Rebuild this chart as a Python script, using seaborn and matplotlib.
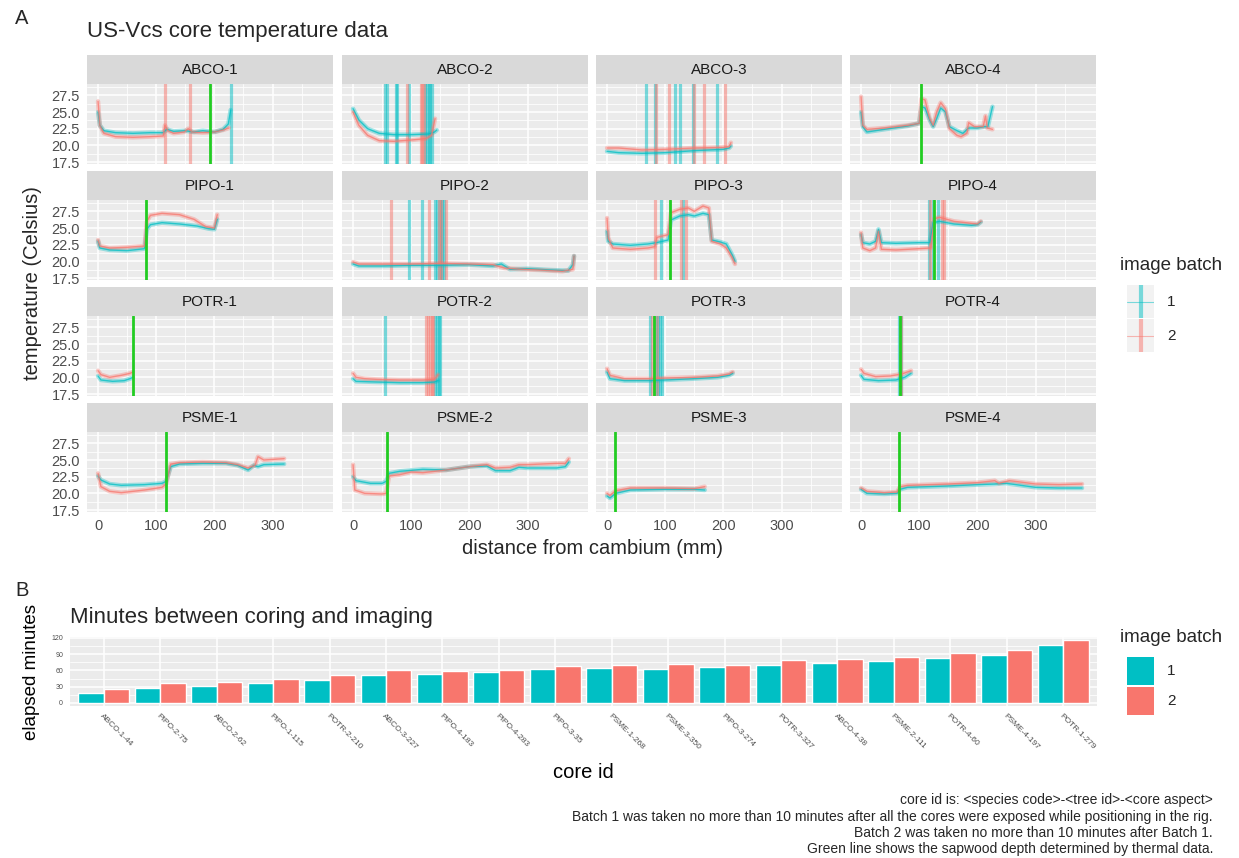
"""
US-Vcs core temperature profiles (A) and coring-to-imaging delay (B).
Values read off the original figure by eye.
"""
import matplotlib
matplotlib.use("Agg")
import matplotlib.pyplot as plt
import numpy as np
import pandas as pd
import seaborn as sns

# ---- Panel A data: (distance mm, temperature C) ----
facets = [
    "ABCO-1", "ABCO-2", "ABCO-3", "ABCO-4",
    "PIPO-1", "PIPO-2", "PIPO-3", "PIPO-4",
    "POTR-1", "POTR-2", "POTR-3", "POTR-4",
    "PSME-1", "PSME-2", "PSME-3", "PSME-4",
]

batch1_profiles = {
    "ABCO-1": [(0, 25.0), (3, 23.0), (10, 22.2), (30, 21.9), (60, 21.8), (90, 21.9), (112, 21.9),
               (118, 22.4), (130, 22.1), (150, 22.2), (165, 22.0), (180, 22.2), (200, 22.0),
               (215, 22.4), (224, 23.2), (228, 25.3)],
    "ABCO-2": [(0, 25.5), (10, 23.8), (25, 22.5), (45, 21.8), (70, 21.6), (100, 21.6), (130, 21.7),
               (140, 22.0), (144, 22.3)],
    "ABCO-3": [(0, 19.1), (20, 18.9), (60, 18.8), (100, 18.9), (150, 19.2), (200, 19.4), (210, 19.6),
               (213, 19.9)],
    "ABCO-4": [(0, 25.0), (3, 22.8), (10, 22.0), (40, 22.4), (80, 22.9), (100, 23.3), (104, 25.8),
               (110, 25.6), (118, 23.8), (124, 22.8), (130, 24.0), (137, 25.6), (145, 25.0),
               (152, 22.8), (165, 22.2), (175, 21.8), (185, 22.6), (200, 22.6), (212, 22.8),
               (218, 22.8), (226, 25.8)],
    "PIPO-1": [(0, 23.0), (3, 22.0), (20, 21.7), (50, 21.6), (80, 21.9), (84, 24.8), (90, 25.5),
               (110, 25.8), (140, 25.6), (170, 25.3), (190, 24.9), (200, 24.8), (205, 26.3)],
    "PIPO-2": [(0, 19.6), (10, 19.3), (50, 19.3), (100, 19.4), (150, 19.4), (200, 19.5), (240, 19.3),
               (255, 19.6), (270, 18.8), (300, 18.9), (340, 18.7), (370, 18.6), (378, 19.5),
               (380, 20.8)],
    "PIPO-3": [(0, 24.5), (2, 23.0), (10, 22.6), (40, 22.4), (70, 22.6), (85, 22.8), (105, 23.2),
               (110, 26.2), (125, 26.8), (140, 27.0), (150, 26.8), (165, 27.2), (175, 27.0),
               (180, 23.2), (195, 22.9), (205, 22.6), (215, 21.0), (220, 20.0)],
    "PIPO-4": [(0, 24.0), (3, 22.8), (15, 22.6), (25, 23.0), (30, 24.8), (35, 22.8), (60, 22.7),
               (100, 22.8), (118, 22.8), (124, 25.8), (135, 26.0), (160, 25.6), (190, 25.4),
               (200, 25.5), (206, 25.9)],
    "POTR-1": [(0, 20.2), (5, 19.6), (25, 19.4), (45, 19.5), (55, 19.8), (60, 20.0)],
    "POTR-2": [(0, 19.8), (5, 19.4), (40, 19.3), (80, 19.2), (120, 19.2), (140, 19.3), (146, 19.5)],
    "POTR-3": [(0, 20.8), (5, 19.8), (30, 19.5), (70, 19.5), (100, 19.6), (150, 19.8), (190, 20.0),
               (210, 20.3), (216, 20.6)],
    "POTR-4": [(0, 20.3), (5, 19.7), (30, 19.5), (60, 19.6), (75, 20.0), (86, 20.6)],
    "PSME-1": [(0, 22.6), (5, 22.0), (20, 21.4), (40, 21.2), (80, 21.3), (110, 21.5), (117, 21.8),
               (125, 24.0), (140, 24.4), (180, 24.5), (220, 24.5), (240, 24.2), (258, 23.5),
               (268, 24.2), (275, 24.0), (285, 24.3), (320, 24.4)],
    "PSME-2": [(0, 22.5), (5, 21.9), (30, 21.5), (50, 21.5), (57, 21.8), (62, 23.0), (80, 23.3),
               (120, 23.6), (160, 23.5), (200, 24.0), (230, 24.1), (245, 23.4), (270, 23.4),
               (285, 23.9), (300, 23.8), (350, 23.8), (365, 24.0), (371, 24.7)],
    "PSME-3": [(0, 19.6), (5, 19.3), (15, 20.0), (40, 20.5), (100, 20.6), (150, 20.6), (168, 20.5)],
    "PSME-4": [(0, 20.6), (10, 20.0), (40, 19.9), (62, 20.0), (67, 20.6), (80, 20.9), (150, 21.1),
               (200, 21.3), (230, 21.4), (250, 21.5), (300, 20.9), (340, 20.8), (380, 20.8)],
}

batch2_profiles = {
    "ABCO-1": [(0, 26.6), (3, 23.0), (10, 21.8), (30, 21.3), (60, 21.2), (90, 21.3), (112, 21.4),
               (115, 23.0), (120, 22.2), (130, 21.8), (148, 22.0), (155, 22.5), (162, 22.0),
               (180, 21.9), (200, 22.0), (215, 22.3), (225, 22.6)],
    "ABCO-2": [(0, 25.0), (10, 23.0), (25, 21.5), (45, 20.7), (70, 20.6), (100, 20.8), (125, 21.0),
               (135, 21.5), (141, 24.0)],
    "ABCO-3": [(0, 19.6), (20, 19.6), (60, 19.3), (100, 19.4), (150, 19.6), (200, 19.7), (210, 19.8),
               (213, 20.4)],
    "ABCO-4": [(0, 27.3), (3, 23.0), (10, 22.4), (40, 22.6), (80, 23.0), (100, 23.3), (104, 27.0),
               (110, 26.8), (118, 24.0), (124, 23.0), (130, 25.0), (137, 26.4), (145, 25.5),
               (152, 22.5), (165, 21.5), (172, 21.3), (182, 21.8), (185, 23.4), (195, 22.8),
               (210, 22.8), (214, 24.4), (217, 22.6), (226, 22.4)],
    "PIPO-1": [(0, 23.2), (3, 22.3), (20, 22.0), (50, 22.1), (80, 22.3), (84, 26.0), (90, 26.9),
               (110, 27.2), (140, 27.0), (165, 26.3), (185, 25.2), (200, 25.0), (205, 27.0)],
    "PIPO-2": [(0, 19.9), (10, 19.6), (50, 19.6), (100, 19.6), (150, 19.7), (200, 19.6), (240, 19.5),
               (260, 19.0), (290, 18.8), (320, 18.7), (360, 18.5), (378, 18.8), (380, 20.8)],
    "PIPO-3": [(0, 26.5), (2, 23.5), (10, 22.0), (40, 21.8), (70, 22.0), (82, 22.2), (86, 23.6),
               (105, 24.0), (110, 27.3), (125, 27.8), (140, 28.0), (150, 27.5), (165, 28.3),
               (175, 28.0), (180, 23.0), (195, 22.6), (205, 22.0), (215, 20.6), (220, 19.6)],
    "PIPO-4": [(0, 24.3), (3, 22.0), (15, 21.6), (25, 22.0), (30, 24.5), (35, 21.8), (60, 21.7),
               (100, 21.9), (120, 22.0), (126, 26.4), (135, 26.6), (160, 26.0), (190, 25.7),
               (200, 25.6), (206, 26.0)],
    "POTR-1": [(0, 21.0), (5, 20.4), (20, 20.0), (40, 20.3), (55, 20.6), (60, 20.8)],
    "POTR-2": [(0, 20.6), (5, 20.0), (20, 19.8), (40, 19.7), (80, 19.6), (120, 19.6), (140, 19.7),
               (146, 20.4)],
    "POTR-3": [(0, 21.3), (5, 20.3), (30, 19.8), (70, 19.8), (100, 19.9), (150, 20.0), (190, 20.2),
               (210, 20.5), (216, 20.8)],
    "POTR-4": [(0, 21.2), (5, 20.6), (25, 20.1), (50, 20.2), (70, 20.5), (86, 21.0)],
    "PSME-1": [(0, 23.0), (5, 21.0), (20, 20.3), (40, 20.1), (80, 20.5), (110, 20.9), (117, 21.4),
               (125, 24.4), (140, 24.6), (180, 24.7), (220, 24.6), (240, 24.3), (258, 23.8),
               (270, 24.2), (275, 25.5), (285, 25.0), (320, 25.2)],
    "PSME-2": [(0, 24.3), (3, 20.5), (20, 20.0), (50, 19.9), (57, 20.0), (62, 22.6), (80, 22.8),
               (100, 23.2), (120, 23.1), (160, 23.5), (200, 24.0), (230, 24.3), (245, 23.8),
               (270, 23.9), (285, 24.3), (300, 24.3), (350, 24.5), (365, 24.5), (371, 25.2)],
    "PSME-3": [(0, 20.0), (5, 19.7), (15, 20.4), (40, 20.8), (100, 20.8), (150, 20.7), (168, 21.0)],
    "PSME-4": [(0, 20.8), (10, 20.3), (40, 20.1), (62, 20.2), (67, 21.0), (80, 21.2), (150, 21.4),
               (200, 21.6), (230, 21.9), (237, 21.5), (255, 21.9), (300, 21.4), (340, 21.3),
               (380, 21.4)],
}

# vertical markers per imaging batch (mm)
batch1_vlines = {
    "ABCO-1": [228],
    "ABCO-2": [55, 58, 73, 76, 96, 124, 127, 130, 133, 136],
    "ABCO-3": [67, 83, 116, 126, 147, 189],
    "PIPO-2": [97, 118, 141, 145, 149, 153, 157],
    "PIPO-3": [92, 131],
    "PIPO-4": [116, 123, 133],
    "POTR-2": [55, 141, 144, 147, 150],
    "POTR-3": [74, 84, 88, 91, 95],
    "POTR-4": [66, 69],
}
batch2_vlines = {
    "ABCO-1": [115, 158],
    "ABCO-2": [92, 116, 119, 122],
    "ABCO-3": [84, 106, 149, 166, 202],
    "PIPO-2": [66, 131, 147, 152, 160],
    "PIPO-3": [83, 128, 136],
    "PIPO-4": [119, 139, 142],
    "POTR-2": [126, 129, 132, 135, 138],
    "POTR-3": [77, 86],
    "POTR-4": [68],
}
# sapwood depth from thermal data (mm)
sapwood_depth = {
    "ABCO-1": 193, "ABCO-4": 103, "PIPO-1": 83, "PIPO-3": 109, "PIPO-4": 125,
    "POTR-1": 60, "POTR-3": 80, "POTR-4": 67,
    "PSME-1": 117, "PSME-2": 58, "PSME-3": 14, "PSME-4": 66,
}

# ---- Panel B data ----
core_ids = ["ABCO-1-44", "PIPO-2-75", "ABCO-2-62", "PIPO-1-115", "POTR-2-210", "ABCO-3-227",
            "PIPO-4-183", "PIPO-4-283", "PIPO-3-35", "PSME-1-268", "PSME-3-350", "PIPO-3-274",
            "POTR-3-327", "ABCO-4-38", "PSME-2-111", "POTR-4-60", "PSME-4-197", "POTR-1-279"]
minutes_batch1 = [18, 27, 31, 36, 42, 52, 53, 57, 62, 64, 62, 67, 70, 74, 77, 83, 89, 107]
minutes_batch2 = [25, 37, 39, 44, 52, 61, 59, 61, 69, 70, 72, 70, 79, 81, 84, 92, 98, 116]

caption_lines = [
    "core id is: <species code>-<tree id>-<core aspect>",
    "Batch 1 was taken no more than 10 minutes after all the cores were exposed while positioning in the rig.",
    "Batch 2 was taken no more than 10 minutes after Batch 1.",
    "Green line shows the sapwood depth determined by thermal data.",
]

TEAL = "#00BFC4"
SALMON = "#F8766D"
GREEN = "#22CC22"
palette = {"1": TEAL, "2": SALMON}

sns.set_theme(style="darkgrid", rc={
    "axes.facecolor": "#EBEBEB",
    "grid.color": "white",
    "axes.edgecolor": "none",
    "xtick.color": "#333333",
    "ytick.color": "#333333",
})
plt.rcParams["font.family"] = ["Liberation Sans", "DejaVu Sans"]

W, H = 1239, 858
fig = plt.figure(figsize=(W / 100, H / 100), dpi=100)


def box(left, top, w, h):
    return [left / W, 1 - (top + h) / H, w / W, h / H]


def style_panel(ax):
    ax.set_facecolor("#EBEBEB")
    ax.grid(True, which="major", color="white", lw=1.1)
    ax.grid(True, which="minor", color="white", lw=0.55)
    for s in ax.spines.values():
        s.set_visible(False)
    ax.tick_params(which="major", length=3, width=0.8, color="#333333",
                   labelcolor="#4D4D4D", pad=2)
    ax.tick_params(which="minor", length=0)
    ax.set_axisbelow(True)


# ---- long-form table for panel A ----
rows = []
for name in facets:
    for batch, prof in (("1", batch1_profiles), ("2", batch2_profiles)):
        for d, t in prof[name]:
            rows.append({"facet": name, "batch": batch, "distance": d, "temp": t})
temps = pd.DataFrame(rows)

fig.text(15 / W, 1 - 18 / H, "A", fontsize=14.5, va="center", ha="left")
fig.text(87 / W, 1 - 32 / H, "US-Vcs core temperature data", fontsize=16, va="center", ha="left")

col_left = [87, 342, 596, 850]
panel_w = 246
strip_h, panel_h = 29, 80
for i, name in enumerate(facets):
    r, c = divmod(i, 4)
    top = 55 + 116 * r
    sax = fig.add_axes(box(col_left[c], top, panel_w, strip_h))
    sax.set_facecolor("#D9D9D9")
    sax.set_xticks([]); sax.set_yticks([])
    sax.grid(False)
    for s in sax.spines.values():
        s.set_visible(False)
    sax.text(0.5, 0.5, name, ha="center", va="center", fontsize=11, color="#1A1A1A",
             transform=sax.transAxes)

    ax = fig.add_axes(box(col_left[c], top + strip_h, panel_w, panel_h))
    style_panel(ax)
    sub = temps[temps["facet"] == name]
    for x in batch1_vlines.get(name, []):
        ax.axvline(x, color=TEAL, alpha=0.5, lw=2.3)
    for x in batch2_vlines.get(name, []):
        ax.axvline(x, color=SALMON, alpha=0.5, lw=2.3)
    sns.lineplot(data=sub, x="distance", y="temp", hue="batch", palette=palette,
                 estimator=None, legend=False, lw=3.2, alpha=0.35, ax=ax)
    sns.lineplot(data=sub, x="distance", y="temp", hue="batch", palette=palette,
                 estimator=None, legend=False, lw=1.0, alpha=0.75, ax=ax)
    if name in sapwood_depth:
        ax.axvline(sapwood_depth[name], color=GREEN, lw=2.0)

    ax.set_xlim(-19, 404)
    ax.set_ylim(17.2, 29.2)
    ax.set_xticks([0, 100, 200, 300])
    ax.set_xticks([50, 150, 250, 350], minor=True)
    ax.set_yticks([17.5, 20.0, 22.5, 25.0, 27.5])
    ax.set_yticks([18.75, 21.25, 23.75, 26.25, 28.75], minor=True)
    ax.set_xlabel(""); ax.set_ylabel("")
    if c == 0:
        ax.set_yticklabels(["17.5", "20.0", "22.5", "25.0", "27.5"], fontsize=10.5)
    else:
        ax.tick_params(axis="y", which="major", length=0, labelleft=False)
    if r == 3:
        ax.set_xticklabels(["0", "100", "200", "300"], fontsize=10.5)
    else:
        ax.tick_params(axis="x", which="major", length=0, labelbottom=False)

fig.text(592 / W, 1 - 549 / H, "distance from cambium (mm)", fontsize=14.5, ha="center", va="center")
fig.text(33 / W, 1 - 283 / H, "temperature (Celsius)", fontsize=14.5, ha="center", va="center",
         rotation=90)

# legend A
fig.text(1120 / W, 1 - 266 / H, "image batch", fontsize=13.5, ha="left", va="center")
for k, (lab, col) in enumerate((("1", TEAL), ("2", SALMON))):
    kax = fig.add_axes(box(1127, 285 + 34 * k, 27, 33))
    kax.set_facecolor("#F2F2F2")
    kax.set_xlim(0, 1); kax.set_ylim(0, 1)
    kax.set_xticks([]); kax.set_yticks([]); kax.grid(False)
    for s in kax.spines.values():
        s.set_visible(False)
    kax.axvline(0.5, color=col, alpha=0.5, lw=3)
    kax.axhline(0.5, color=col, alpha=0.5, lw=0.8)
    fig.text(1167 / W, 1 - (302 + 34 * k) / H, lab, fontsize=11, va="center")

# ---- Panel B ----
bars = pd.DataFrame({
    "core id": core_ids * 2,
    "minutes": minutes_batch1 + minutes_batch2,
    "batch": ["1"] * len(core_ids) + ["2"] * len(core_ids),
})
fig.text(15 / W, 1 - 590 / H, "B", fontsize=14.5, va="center", ha="left")
fig.text(70 / W, 1 - 617 / H, "Minutes between coring and imaging", fontsize=16, va="center", ha="left")

bx = fig.add_axes(box(70, 637, 1027, 69))
style_panel(bx)
sns.barplot(data=bars, x="core id", y="minutes", hue="batch", palette=palette, width=0.9,
            saturation=1, legend=False, ax=bx, errorbar=None)
bx.set_xlim(-0.6, len(core_ids) - 0.4)
bx.set_ylim(-5.8, 121.8)
bx.set_yticks([0, 30, 60, 90, 120])
bx.set_yticks([15, 45, 75, 105], minor=True)
bx.set_yticklabels(["0", "30", "60", "90", "120"], fontsize=5)
bx.set_xticks(range(len(core_ids)))
bx.set_xticklabels(core_ids, rotation=-45, ha="left", rotation_mode="anchor", fontsize=6)
bx.grid(True, axis="x", which="major", color="white", lw=1.1)
bx.set_xlabel("core id", fontsize=14.5, color="black", labelpad=8)
bx.set_ylabel("elapsed minutes", fontsize=13.5, color="black", labelpad=8)

# legend B
fig.text(1120 / W, 1 - 637 / H, "image batch", fontsize=13.5, ha="left", va="center")
for k, (lab, col) in enumerate((("1", TEAL), ("2", SALMON))):
    kax = fig.add_axes(box(1127, 657 + 30 * k, 27, 28))
    kax.set_facecolor(col)
    kax.set_xticks([]); kax.set_yticks([]); kax.grid(False)
    for s in kax.spines.values():
        s.set_visible(False)
    fig.text(1167 / W, 1 - (671 + 30 * k) / H, lab, fontsize=11, va="center")

for k, line in enumerate(caption_lines):
    fig.text(1213 / W, 1 - (800 + 16.5 * k) / H, line, fontsize=10, ha="right", va="center")

fig.savefig("out.png", dpi=100)
